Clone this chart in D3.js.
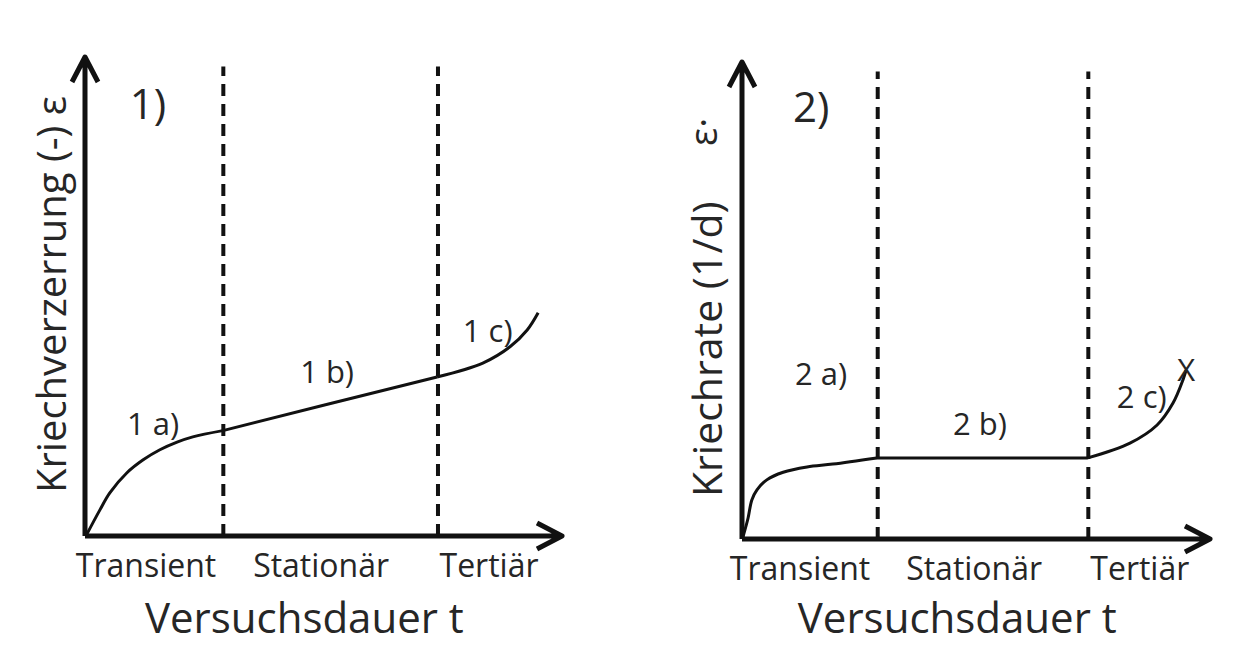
<!DOCTYPE html>
<html>
<head>
<meta charset="utf-8">
<script src="https://cdn.jsdelivr.net/npm/d3@7"></script>
<style>
  body { margin: 0; background: #fff; }
  svg { display: block; font-family: "Open Sans", sans-serif; }
  text { fill: #262626; }
</style>
</head>
<body>
<svg id="canvas" width="1249" height="658"></svg>
<script>
// phase names and the boundaries (in % of test duration)
const phasen = ["Transient", "Stationär", "Tertiär"]
const grenzen = [29, 74]

// 1) creep strain over time
const dehnungT = [0.4, 3.1, 5.2, 8.8, 12.2, 15.7, 19.3, 22.6, 28.9, 50, 73.8, 83.4, 89.1, 92.7, 95.0]
const dehnungV = [0.4, 5.4, 9.0, 13.2, 15.9, 18.0, 19.6, 20.7, 22.0, 27.3, 33.2, 36.1, 39.5, 43.0, 46.6]
const etiketten1 = ["1)", "1 a)", "1 b)", "1 c)"]

// 2) creep rate over time
const rateT = [0.2, 1.3, 2.1, 3.2, 5.3, 8.8, 13.9, 19.4, 28.8, 50, 73.9, 82.9, 88.7, 92.1, 94.2, 94.9]
const rateV = [0.4, 4.4, 8.2, 10.3, 12.4, 14.0, 15.1, 15.7, 17.0, 17.0, 17.0, 20.1, 23.9, 28.5, 33.3, 35.4]
const etiketten2 = ["2)", "2 a)", "2 b)", "2 c)"]

let canvas = d3.select("#canvas")

const zeichne = (cfg) => {
    const x = d3.scaleLinear().domain([0, 100]).range(cfg.xr)
    const y = d3.scaleLinear().domain([0, 100]).range(cfg.yr)
    const g = canvas.append("g")

    // dashed phase boundaries
    g.selectAll(".grenze")
        .data(grenzen)
        .enter()
        .append("line")
        .attr("x1", d => x(d)).attr("x2", d => x(d))
        .attr("y1", y(0)).attr("y2", y(98))
        .attr("stroke", "#111")
        .attr("stroke-width", 4)
        .attr("stroke-dasharray", "12 8")

    // the curve, one piece per phase (stationary part is straight)
    const punkte = cfg.t.map((t, i) => [t, cfg.v[i]])
    const abschnitte = [[0, grenzen[0]], grenzen, [grenzen[1], 100]]
    g.selectAll(".kurve")
        .data(abschnitte)
        .enter()
        .append("path")
        .attr("d", (d, i) => d3.line()
            .x(p => x(p[0])).y(p => y(p[1]))
            .curve(i === 1 ? d3.curveLinear : d3.curveCatmullRom.alpha(0.5))(
                punkte.filter(p => p[0] >= d[0] - 0.5 && p[0] <= d[1] + 0.5)))
        .attr("fill", "none")
        .attr("stroke", "#111")
        .attr("stroke-width", 3)

    // axes with open arrow heads
    const achse = "M" + x(0) + "," + y(0) + "H" + x(100) +
        "M" + (x(100) - 25) + "," + (y(0) - 13) + "L" + x(100) + "," + y(0) + "L" + (x(100) - 25) + "," + (y(0) + 13) +
        "M" + x(0) + "," + y(0) + "V" + y(100) +
        "M" + (x(0) - 13) + "," + (y(100) + 25) + "L" + x(0) + "," + y(100) + "L" + (x(0) + 13) + "," + (y(100) + 25)
    g.append("path")
        .attr("d", achse)
        .attr("fill", "none")
        .attr("stroke", "#111")
        .attr("stroke-width", 5)
        .attr("stroke-linejoin", "round")

    // panel and phase labels
    g.selectAll(".etikett")
        .data(cfg.etiketten)
        .enter()
        .append("text")
        .attr("x", (d, i) => x(cfg.etPos[i][0]))
        .attr("y", (d, i) => y(cfg.etPos[i][1]))
        .attr("font-size", (d, i) => i === 0 ? 42 : 31)
        .text(d => d)

    g.selectAll(".phase")
        .data(phasen)
        .enter()
        .append("text")
        .attr("x", (d, i) => x(cfg.phPos[i]))
        .attr("y", cfg.phY)
        .attr("text-anchor", "middle")
        .attr("font-size", 32)
        .text(d => d)

    g.append("text")
        .attr("x", x(46))
        .attr("y", 633)
        .attr("text-anchor", "middle")
        .attr("font-size", 42)
        .text("Versuchsdauer t")

    return { x, y, g }
}

const p1 = zeichne({
    xr: [85, 562], yr: [536, 57], t: dehnungT, v: dehnungV,
    etiketten: etiketten1,
    etPos: [[9.4, 87], [8.8, 21.1], [45.1, 31.9], [79.2, 40.5]],
    phPos: [12.8, 49.5, 84.7], phY: 577
})
p1.g.append("text")
    .attr("transform", "translate(66,493) rotate(-90)")
    .attr("font-size", 40)
    .text("Kriechverzerrung (-) ε")

const p2 = zeichne({
    xr: [742, 1210], yr: [539, 62], t: rateT, v: rateV,
    etiketten: etiketten2,
    etPos: [[10.9, 87.4], [11.3, 32.3], [45.1, 21.8], [80.1, 27.5]],
    phPos: [12.4, 49.6, 85.0], phY: 580
})
p2.g.append("text")
    .attr("transform", "translate(722,497) rotate(-90)")
    .attr("font-size", 41)
    .text("Kriechrate (1/d)")
p2.g.append("text")
    .attr("transform", "translate(717,146) rotate(-90)")
    .attr("font-size", 38)
    .text("ε·")
// rupture mark at the end of the rate curve
p2.g.append("text")
    .attr("x", p2.x(rateT[rateT.length - 1]))
    .attr("y", p2.y(rateV[rateV.length - 1]) + 11)
    .attr("text-anchor", "middle")
    .attr("font-size", 31)
    .text("X")
</script>
</body>
</html>
